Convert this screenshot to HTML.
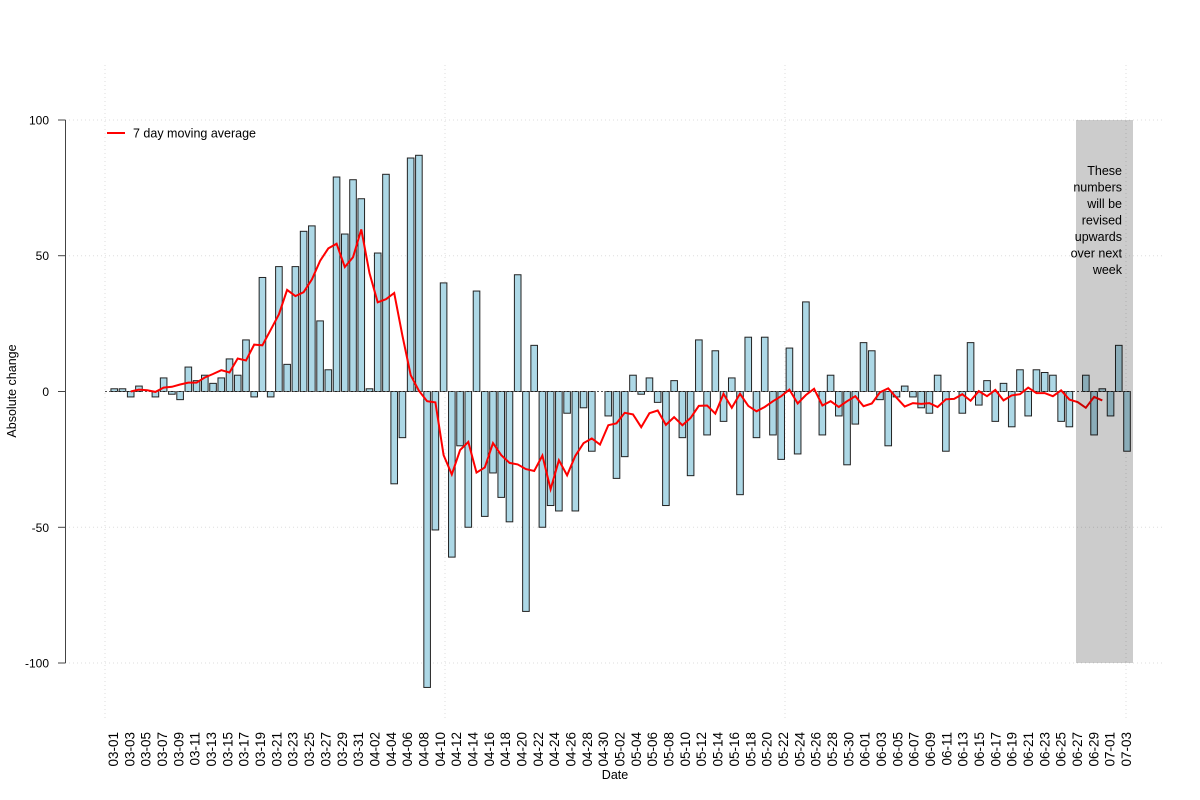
<!DOCTYPE html>
<html><head><meta charset="utf-8"><style>
html,body{margin:0;padding:0;background:#fff;}
svg{display:block;font-family:"Liberation Sans",Arial,sans-serif;}
</style></head><body>
<svg id="s" width="1200" height="800" viewBox="0 0 1200 800" xmlns="http://www.w3.org/2000/svg">
<g stroke="#ddd" stroke-width="1" stroke-dasharray="1,3">
<line x1="65" x2="1165" y1="120" y2="120"/>
<line x1="65" x2="1165" y1="255.7" y2="255.7"/>
<line x1="65" x2="1165" y1="527.3" y2="527.3"/>
<line x1="65" x2="1165" y1="663" y2="663"/>
<line x1="105" x2="105" y1="65" y2="720"/>
<line x1="445" x2="445" y1="65" y2="720"/>
<line x1="785" x2="785" y1="65" y2="720"/>
<line x1="1126" x2="1126" y1="65" y2="720"/>
</g>
<g id="bars"></g>
<line x1="105" x2="1132" y1="391.5" y2="391.5" stroke="#555" stroke-dasharray="2,2"/>
<polyline id="ma" fill="none" stroke="#f00" stroke-width="2"/>
<rect x="1076" y="120" width="57" height="543" fill="rgba(0,0,0,0.2)"/>
<g font-size="12.5" text-anchor="end" fill="#000">
<text x="1122" y="175">These</text>
<text x="1122" y="191.5">numbers</text>
<text x="1122" y="208">will be</text>
<text x="1122" y="224.5">revised</text>
<text x="1122" y="241">upwards</text>
<text x="1122" y="257.5">over next</text>
<text x="1122" y="274">week</text>
</g>
<line x1="107" x2="125" y1="133" y2="133" stroke="#f00" stroke-width="2"/>
<text x="133" y="137.5" font-size="12.5">7 day moving average</text>
<line x1="65.5" x2="65.5" y1="120" y2="663" stroke="#444"/>
<g stroke="#444">
<line x1="58" x2="65.5" y1="120" y2="120"/><line x1="58" x2="65.5" y1="255.7" y2="255.7"/>
<line x1="58" x2="65.5" y1="391.5" y2="391.5"/><line x1="58" x2="65.5" y1="527.3" y2="527.3"/>
<line x1="58" x2="65.5" y1="663" y2="663"/>
</g>
<g font-size="12" text-anchor="end">
<text x="49" y="124.5">100</text><text x="49" y="260">50</text><text x="49" y="396">0</text>
<text x="49" y="532">-50</text><text x="49" y="667.5">-100</text>
</g>
<text transform="translate(16,391) rotate(-90)" font-size="12.5" text-anchor="middle">Absolute change</text>
<text x="615" y="779" font-size="12.5" text-anchor="middle">Date</text>
<g id="xl" font-size="13.5" text-anchor="end">
<text>03-01</text><text>03-03</text><text>03-05</text><text>03-07</text><text>03-09</text><text>03-11</text><text>03-13</text><text>03-15</text><text>03-17</text><text>03-19</text><text>03-21</text><text>03-23</text><text>03-25</text><text>03-27</text><text>03-29</text><text>03-31</text>
<text>04-02</text><text>04-04</text><text>04-06</text><text>04-08</text><text>04-10</text><text>04-12</text><text>04-14</text><text>04-16</text><text>04-18</text><text>04-20</text><text>04-22</text><text>04-24</text><text>04-26</text><text>04-28</text><text>04-30</text>
<text>05-02</text><text>05-04</text><text>05-06</text><text>05-08</text><text>05-10</text><text>05-12</text><text>05-14</text><text>05-16</text><text>05-18</text><text>05-20</text><text>05-22</text><text>05-24</text><text>05-26</text><text>05-28</text><text>05-30</text>
<text>06-01</text><text>06-03</text><text>06-05</text><text>06-07</text><text>06-09</text><text>06-11</text><text>06-13</text><text>06-15</text><text>06-17</text><text>06-19</text><text>06-21</text><text>06-23</text><text>06-25</text><text>06-27</text><text>06-29</text>
<text>07-01</text><text>07-03</text>
</g>
</svg>
<script>
var d=[0,1,1,-2,2,0,-2,5,-1,-3,9,4,6,3,5,12,6,19,-2,42,-2,46,10,46,59,61,26,8,79,58,78,
71,1,51,80,-34,-17,86,87,-109,-51,40,-61,-20,-50,37,-46,-30,-39,-48,43,-81,17,-50,-42,-44,-8,-44,-6,-22,0,
-9,-32,-24,6,-1,5,-4,-42,4,-17,-31,19,-16,15,-11,5,-38,20,-17,20,-16,-25,16,-23,33,0,-16,6,-9,-27,-12,
18,15,-3,-20,-2,2,-2,-6,-8,6,-22,0,-8,18,-5,4,-11,3,-13,8,-9,8,7,6,-11,-13,0,6,-16,1,
-9,17,-22];
var NS="http://www.w3.org/2000/svg",X=function(i){return 106+8.234*i},Y=function(v){return 391.5-v*2.715};
var g=document.getElementById("bars");
d.forEach(function(v,i){if(!v)return;var r=document.createElementNS(NS,"rect");
var y1=Y(Math.max(v,0)),y2=Y(Math.min(v,0));
r.setAttribute("x",X(i)-3.3);r.setAttribute("width",6.6);r.setAttribute("y",y1);r.setAttribute("height",y2-y1);
r.setAttribute("fill","#add8e6");r.setAttribute("stroke","#222");r.setAttribute("stroke-width","1");g.appendChild(r);});
var p=[];for(var i=3;i<=121;i++){var s=0;for(var k=i-3;k<=i+3;k++)s+=d[k];p.push(X(i).toFixed(1)+","+Y(s/7).toFixed(1));}
document.getElementById("ma").setAttribute("points",p.join(" "));
var t=document.getElementById("xl").children;
for(var j=0;j<t.length;j++){t[j].setAttribute("transform","translate("+(113+8.17*2*j+5)+",732) rotate(-90)");}
</script>
</body></html>
